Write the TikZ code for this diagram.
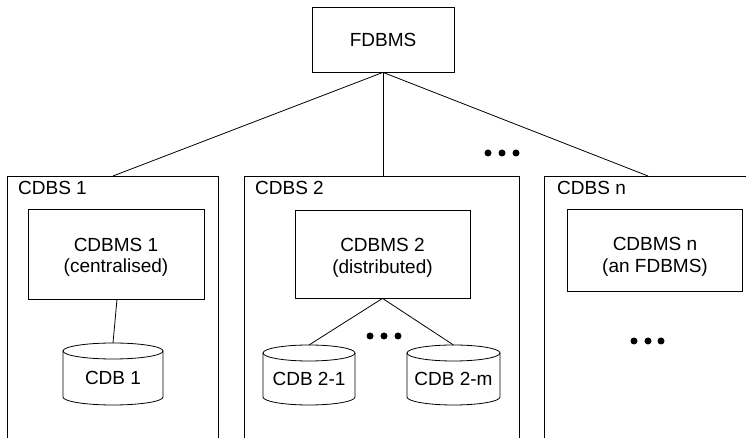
\documentclass[tikz,border=0pt]{standalone}
\usepackage{fontspec}
\setmainfont{Liberation Sans}
\begin{document}
\begin{tikzpicture}[x=1pt,y=1pt,
  line/.style={line width=0.8pt},
  frame/.style={line width=0.8pt},
  box/.style={draw,line width=0.8pt,inner sep=0pt},
  txt/.style={inner sep=0pt,align=center,font=\fontsize{19}{21.5}\selectfont},
  lbl/.style={inner sep=0pt,font=\fontsize{19}{22}\selectfont},
  dot/.style={fill=black}]
\useasboundingbox (0,0) rectangle (746,438);
\newcommand\mycyl[6]{%
  \draw[line] (#2-#5,#3-8) -- (#2-#5,#4+8) arc (180:360:#5 and 8) -- (#2+#5,#3-8);
  \draw[line] (#2,#3-8) ellipse (#5 and 8);
  \coordinate (#1top) at (#2,#3);
  \node[lbl] (#1) at (#2,{(#3+#4)/2-4}) {#6};}
% top
\node[box,minimum width=142,minimum height=65,font=\fontsize{19}{22}\selectfont] (fd) at (383,398.5) {FDBMS};
% frames
\draw[frame] (7,0) -- (7,262) -- (218,262) -- (218,0);
\draw[frame] (244,0) -- (244,262) -- (519,262) -- (519,0);
\draw[frame] (544,0) -- (544,262) -- (746,262);
\coordinate (f1) at (113,262);
\coordinate (f2) at (383,262);
\coordinate (fn) at (648,262);
\node[lbl,anchor=base west] (l1) at (18,243) {CDBS 1};
\node[lbl,anchor=base west] (l2) at (255,243) {CDBS 2};
\node[lbl,anchor=base west] (ln) at (557,243) {CDBS n};
\draw[line] (fd.south) -- (f1);
\draw[line] (fd.south) -- (f2);
\draw[line] (fd.south) -- (fn);
\foreach \x in {488,502,516} \fill[dot] (\x,285) circle (3.5);
% inner boxes
\node[box,minimum width=176,minimum height=90] (m1) at (116,184) {};
\node[box,minimum width=175,minimum height=88] (m2) at (382.5,184) {};
\node[box,minimum width=175,minimum height=82] (mn) at (654.5,188) {};
\node[txt] (m1t) at (116,180.5) {CDBMS 1\\(centralised)};
\node[txt] (m2t) at (382.5,180) {CDBMS 2\\(distributed)};
\node[txt] (mnt) at (655,181) {CDBMS n\\(an FDBMS)};
% cylinders
\mycyl{c1}{113}{95}{33}{50}{CDB 1}
\mycyl{c21}{309}{93}{33}{46}{CDB 2-1}
\mycyl{c2m}{453.5}{93}{33}{46.5}{CDB 2-m}
\draw[line] ([xshift=1]m1.south) -- (c1top);
\draw[line] (m2.south) -- (c21top);
\draw[line] (m2.south) -- (c2mtop);
\foreach \x in {370,384,398} \fill[dot] (\x,102) circle (3.5);
\foreach \x in {634,648,661} \fill[dot] (\x,97) circle (3.5);
\end{tikzpicture}
\end{document}
